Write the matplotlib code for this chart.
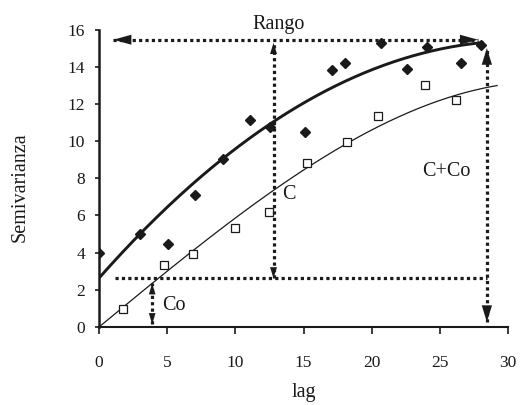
import matplotlib
matplotlib.use("Agg")
import matplotlib.pyplot as plt
import numpy as np

plt.rcParams["font.family"] = ["Liberation Serif", "DejaVu Serif"]

# experimental semivariance, filled diamonds
lag_d = [0.0, 3.03, 5.08, 7.04, 9.1, 11.08, 12.57, 15.14, 17.07, 18.05,
         20.66, 22.57, 24.09, 26.56, 28.0]
semiv_d = [3.96, 4.98, 4.49, 7.1, 9.02, 11.14, 10.78, 10.51, 13.82, 14.18,
           15.28, 13.87, 15.08, 14.18, 15.15]

# experimental semivariance, open squares
lag_s = [1.79, 4.74, 6.87, 10.0, 12.45, 15.23, 18.17, 20.5, 23.9, 26.2]
semiv_s = [0.99, 3.34, 3.94, 5.3, 6.18, 8.84, 9.96, 11.36, 13.03, 12.22]

# fitted model curves (polynomial coefficients, lowest order first)
coef_thick = [2.63, 0.83, -0.0135]
lag_max_thick = 28.1
coef_thin = [0.0, 0.605, 0.0, -0.000188]
lag_max_thin = 29.2

# semivariogram parameters marked by arrows
nugget = 2.62
sill_line = 15.45
range_lag = 28.45
c_lag = 12.8
co_lag = 3.9

ink = "#1a1a1a"

fig = plt.figure(figsize=(5.23, 4.05), dpi=100)
ax = fig.add_axes([99 / 523, 78 / 405, 409 / 523, 297.5 / 405])

x1 = np.linspace(0, lag_max_thick, 200)
ax.plot(x1, np.polynomial.polynomial.polyval(x1, coef_thick), color=ink, lw=2.1, zorder=3)
x2 = np.linspace(0, lag_max_thin, 200)
ax.plot(x2, np.polynomial.polynomial.polyval(x2, coef_thin), color=ink, lw=0.9, zorder=3)

ax.plot(lag_d, semiv_d, ls="none", marker="D", ms=5.4, color=ink, zorder=4)
ax.plot(lag_s, semiv_s, ls="none", marker="s", ms=5.6, mfc="white", mec=ink, mew=0.9, zorder=4)


def dotted_arrow(p0, p1, heads, hl, hw):
    ax.plot([p0[0], p1[0]], [p0[1], p1[1]], color=ink, lw=2.3, ls=(0, (1, 1)),
            dash_capstyle="butt", clip_on=False, zorder=5)
    if heads:
        ax.annotate("", xy=p1, xytext=p0, annotation_clip=False, zorder=6,
                    arrowprops=dict(arrowstyle=f"{heads},head_length={hl},head_width={hw}",
                                    mutation_scale=1, lw=0, color=ink,
                                    shrinkA=0, shrinkB=0))


# Rango
dotted_arrow((1.05, sill_line), (27.8, sill_line), "<|-|>", 13, 3.6)
# nugget line
dotted_arrow((1.17, nugget), (range_lag, nugget), None, 0, 0)
# C
dotted_arrow((c_lag, nugget), (c_lag, 15.28), "<|-|>", 8, 2.5)
# C+Co
dotted_arrow((range_lag, 0.27), (range_lag, 15.0), "<|-|>", 12, 3.7)
# Co
dotted_arrow((co_lag, 0.15), (co_lag, 2.35), "<|-|>", 8, 2.4)

tfs = 14.5
ax.text(13.2, 16.0, "Rango", ha="center", va="baseline", fontsize=tfs, color=ink, clip_on=False)
ax.text(13.45, 6.88, "C", ha="left", va="baseline", fontsize=tfs, color=ink)
ax.text(23.68, 8.1, "C+Co", ha="left", va="baseline", fontsize=tfs, color=ink)
ax.text(4.6, 0.9, "Co", ha="left", va="baseline", fontsize=tfs, color=ink)

ax.set_xlim(0, 30)
ax.set_ylim(0, 16)
ax.set_xticks(np.arange(0, 31, 5))
ax.set_yticks(np.arange(0, 17, 2))
ax.spines["top"].set_visible(False)
ax.spines["right"].set_visible(False)
ax.spines["left"].set_linewidth(1.8)
ax.spines["bottom"].set_linewidth(1.5)
ax.spines["left"].set_color(ink)
ax.spines["bottom"].set_color(ink)
ax.tick_params(axis="x", direction="out", length=5, width=1.2, pad=15, labelsize=12.5, colors=ink)
ax.tick_params(axis="y", direction="out", length=3, width=1.2, pad=7, labelsize=12.5, colors=ink)

fig.text(304 / 523, 1 - 397 / 405, "lag", ha="center", va="baseline", fontsize=tfs, color=ink)
fig.text(20.5 / 523, 1 - 187.5 / 405, "Semivarianza", ha="center", va="center",
         rotation=90, fontsize=tfs, color=ink)

fig.savefig("out.png", dpi=100)
